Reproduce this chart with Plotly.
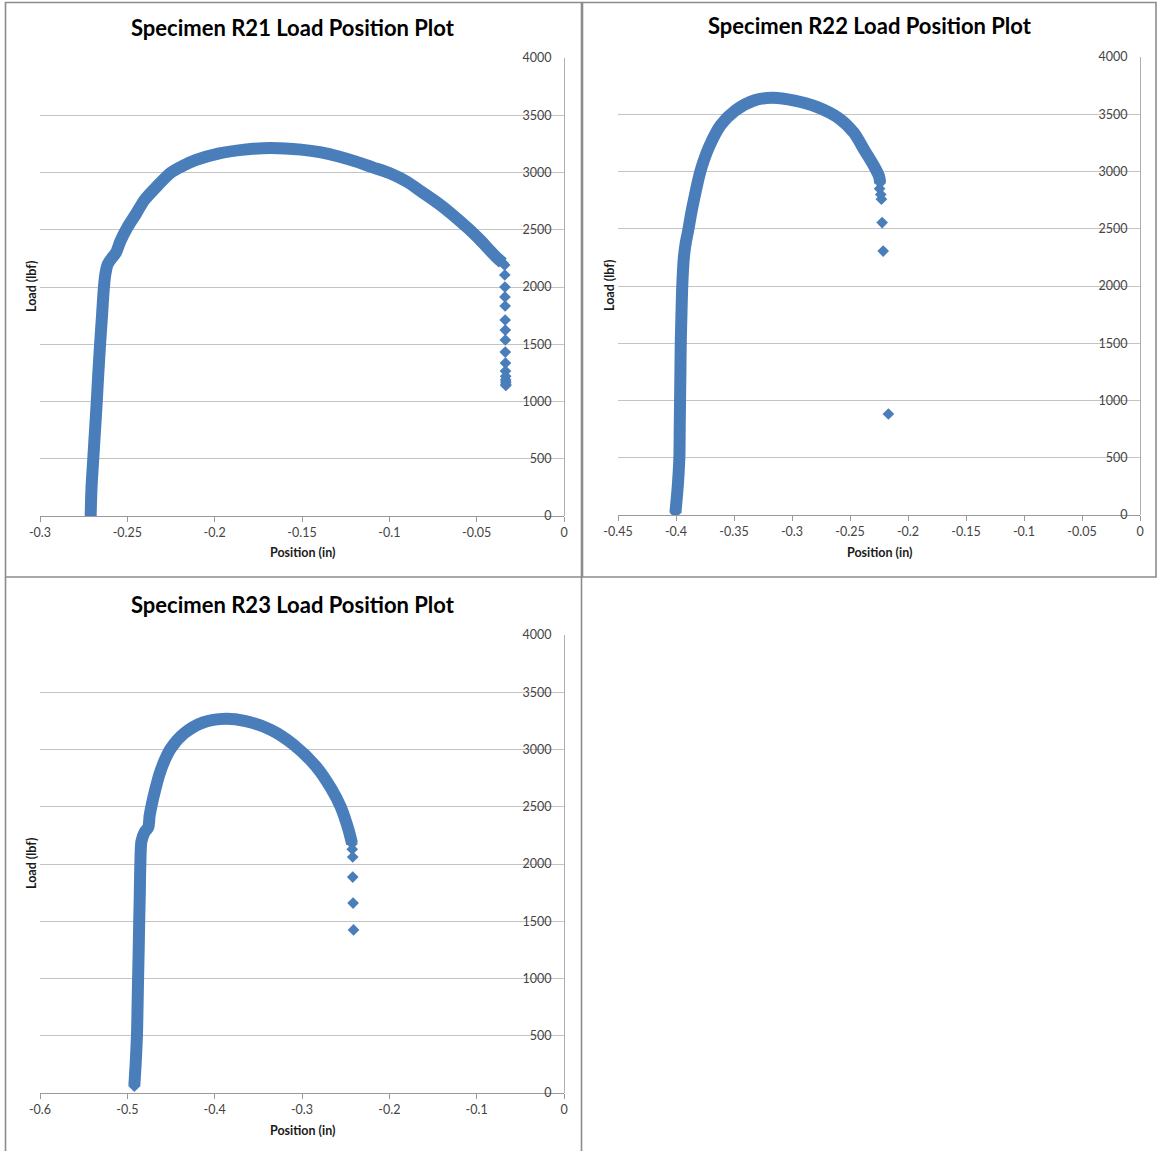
import plotly.graph_objects as go

# ---- Specimen R21: load vs. crosshead position ----
r21_pos = [-0.2710, -0.2705, -0.2695, -0.2685, -0.2675, -0.2666, -0.2656, -0.2645,
           -0.2634, -0.2625, -0.2612, -0.2590, -0.2565, -0.2540, -0.2500, -0.2450,
           -0.2402, -0.2330, -0.2250, -0.2180, -0.2110, -0.1980, -0.1830, -0.1680,
           -0.1505, -0.1390, -0.1290, -0.1190, -0.1095, -0.1000, -0.0900, -0.0814,
           -0.0720, -0.0641, -0.0544, -0.0480, -0.0425, -0.0380, -0.0350]
r21_load = [0, 250, 500, 750, 1000, 1250, 1500, 1750,
            2000, 2120, 2200, 2250, 2300, 2400, 2520, 2640,
            2760, 2880, 3000, 3060, 3108, 3165, 3200, 3215,
            3200, 3175, 3140, 3095, 3045, 2995, 2920, 2830,
            2730, 2635, 2505, 2410, 2320, 2250, 2210]
r21_tail_pos = [-0.0340, -0.0339, -0.0338, -0.0338, -0.0337, -0.0337, -0.0336, -0.0336,
                -0.0336, -0.0335, -0.0335, -0.0334, -0.0334, -0.0333, -0.0333, -0.0333]
r21_tail_load = [2192, 2105, 2000, 1913, 1834, 1712, 1624, 1537,
                 1432, 1336, 1266, 1220, 1190, 1170, 1150, 1140]

# ---- Specimen R22 ----
r22_pos = [-0.4005, -0.3985, -0.3971, -0.3968, -0.3965, -0.3962, -0.3959, -0.3953,
           -0.3946, -0.3933, -0.3917, -0.3892, -0.3870, -0.3844, -0.3790, -0.3717,
           -0.3615, -0.3487, -0.3328, -0.3169, -0.2978, -0.2787, -0.2595, -0.2468,
           -0.2372, -0.2300, -0.2250, -0.2240]
r22_load = [20, 250, 500, 750, 1000, 1250, 1500, 1750,
            2000, 2240, 2370, 2500, 2630, 2760, 3000, 3210,
            3405, 3534, 3620, 3645, 3620, 3565, 3465, 3340,
            3180, 3060, 2960, 2900]
r22_tail_pos = [-0.2245, -0.2235, -0.2229, -0.2223, -0.2214, -0.2169]
r22_tail_load = [2850, 2800, 2758, 2554, 2305, 882]

# ---- Specimen R23 ----
r23_pos = [-0.4920, -0.4905, -0.4890, -0.4883, -0.4877, -0.4870, -0.4864, -0.4857,
           -0.4851, -0.4838, -0.4800, -0.4760, -0.4745, -0.4720, -0.4680, -0.4631,
           -0.4570, -0.4501, -0.4350, -0.4134, -0.3875, -0.3659, -0.3356, -0.3097,
           -0.2838, -0.2665, -0.2557, -0.2470, -0.2427]
r23_load = [60, 250, 500, 750, 1000, 1250, 1500, 1750,
            2000, 2200, 2280, 2320, 2420, 2520, 2650, 2787,
            2910, 3011, 3140, 3236, 3268, 3250, 3172, 3043,
            2851, 2658, 2498, 2305, 2177]
r23_tail_pos = [-0.2425, -0.2419, -0.2419, -0.2415, -0.2410]
r23_tail_load = [2129, 2061, 1886, 1659, 1424]

# ---- Axis ticks ----
load_ticks = [0, 500, 1000, 1500, 2000, 2500, 3000, 3500, 4000]
load_labels = ["0", "500", "1000", "1500", "2000", "2500", "3000", "3500", "4000"]
r21_xticks = [-0.3, -0.25, -0.2, -0.15, -0.1, -0.05, 0]
r21_xlabels = ["-0.3", "-0.25", "-0.2", "-0.15", "-0.1", "-0.05", "0"]
r22_xticks = [-0.45, -0.4, -0.35, -0.3, -0.25, -0.2, -0.15, -0.1, -0.05, 0]
r22_xlabels = ["-0.45", "-0.4", "-0.35", "-0.3", "-0.25", "-0.2", "-0.15", "-0.1", "-0.05", "0"]
r23_xticks = [-0.6, -0.5, -0.4, -0.3, -0.2, -0.1, 0]
r23_xlabels = ["-0.6", "-0.5", "-0.4", "-0.3", "-0.2", "-0.1", "0"]

titles = ["Specimen R21 Load Position Plot",
          "Specimen R22 Load Position Plot",
          "Specimen R23 Load Position Plot"]

W, H = 1160, 1151
BLUE = "#4A7EBB"
FONT = "Lato, 'Open Sans', sans-serif"
TICK_COLOR = "#444444"


def px(x):
    return x / W


def py(y):
    return 1 - y / H


fig = go.Figure()

series = [
    (r21_pos, r21_load, r21_tail_pos, r21_tail_load, "x", "y"),
    (r22_pos, r22_load, r22_tail_pos, r22_tail_load, "x2", "y2"),
    (r23_pos, r23_load, r23_tail_pos, r23_tail_load, "x3", "y3"),
]
for pos, load, tpos, tload, xa, ya in series:
    fig.add_trace(go.Scatter(
        x=pos, y=load, xaxis=xa, yaxis=ya, mode="lines+markers",
        line=dict(color=BLUE, width=12, shape="spline", smoothing=0.8),
        marker=dict(symbol="diamond", size=9, color=BLUE),
        showlegend=False, hoverinfo="x+y"))
    fig.add_trace(go.Scatter(
        x=tpos, y=tload, xaxis=xa, yaxis=ya, mode="markers",
        marker=dict(symbol="diamond", size=9, color=BLUE),
        showlegend=False, hoverinfo="x+y"))

# plot-area geometry in pixels: (left, right, top, bottom)
areas = [(40, 564, 58, 516), (618, 1140, 57, 515), (40, 564, 635, 1093)]
xranges = [[-0.3, 0], [-0.45, 0], [-0.6, 0]]
xticks = [(r21_xticks, r21_xlabels), (r22_xticks, r22_xlabels), (r23_xticks, r23_xlabels)]

for i, ((l, r, t, b), xr, (tv, tt)) in enumerate(zip(areas, xranges, xticks)):
    sfx = "" if i == 0 else str(i + 1)
    fig.update_layout(**{
        "xaxis" + sfx: dict(
            domain=[px(l), px(r)], range=xr, anchor="y" + sfx,
            tickvals=tv, ticktext=tt, ticks="outside", ticklen=5,
            tickcolor="#9a9a9a", showline=True, linecolor="#9a9a9a", linewidth=1,
            showgrid=False, zeroline=False, automargin=False,
            tickfont=dict(family=FONT, size=12.5, color=TICK_COLOR)),
        # value axis sits at x = 0 (right edge), labels to its left
        "yaxis" + sfx: dict(
            domain=[py(b), py(t)], range=[0, 4000], anchor="free",
            position=px(r), side="left", ticklabelstandoff=10,
            tickvals=load_ticks, ticktext=load_labels, ticks="",
            showline=True, linecolor="#b0b0b0", linewidth=1,
            showgrid=True, gridcolor="#c4c4c4", gridwidth=1, zeroline=False,
            automargin=False,
            tickfont=dict(family=FONT, size=12.5, color=TICK_COLOR)),
    })

annotations = []
for (l, r, t, b), title in zip(areas, titles):
    cx = (l + r) / 2
    annotations.append(dict(
        x=px(cx - 9), y=py(t - 31), xref="paper", yref="paper",
        text="<b>" + title + "</b>", showarrow=False,
        xanchor="center", yanchor="middle",
        font=dict(family=FONT, size=22, color="#000000")))
    annotations.append(dict(
        x=px(cx), y=py(b + 37), xref="paper", yref="paper",
        text="<b>Position (in)</b>", showarrow=False,
        xanchor="center", yanchor="middle",
        font=dict(family=FONT, size=12.5, color="#1a1a1a")))
    annotations.append(dict(
        x=px(l - 9), y=py((t + b) / 2), xref="paper", yref="paper",
        text="<b>Load (lbf)</b>", showarrow=False, textangle=-90,
        xanchor="center", yanchor="middle",
        font=dict(family=FONT, size=12.5, color="#1a1a1a")))

# chart frames
BORDER = dict(color="#8c8c8c", width=1.6)
shapes = [
    dict(type="rect", xref="paper", yref="paper",
         x0=px(5.5), x1=px(581.5), y0=py(577), y1=py(2.5), line=BORDER),
    dict(type="rect", xref="paper", yref="paper",
         x0=px(582.5), x1=px(1156), y0=py(577), y1=py(2.5), line=BORDER),
    dict(type="line", xref="paper", yref="paper",
         x0=px(5.5), x1=px(5.5), y0=py(577), y1=py(1152), line=BORDER),
    dict(type="line", xref="paper", yref="paper",
         x0=px(581.5), x1=px(581.5), y0=py(577), y1=py(1152), line=BORDER),
]

fig.update_layout(
    width=W, height=H, margin=dict(l=0, r=0, t=0, b=0, autoexpand=False),
    paper_bgcolor="white", plot_bgcolor="white",
    annotations=annotations, shapes=shapes, showlegend=False,
)

fig.write_html("out.html")
